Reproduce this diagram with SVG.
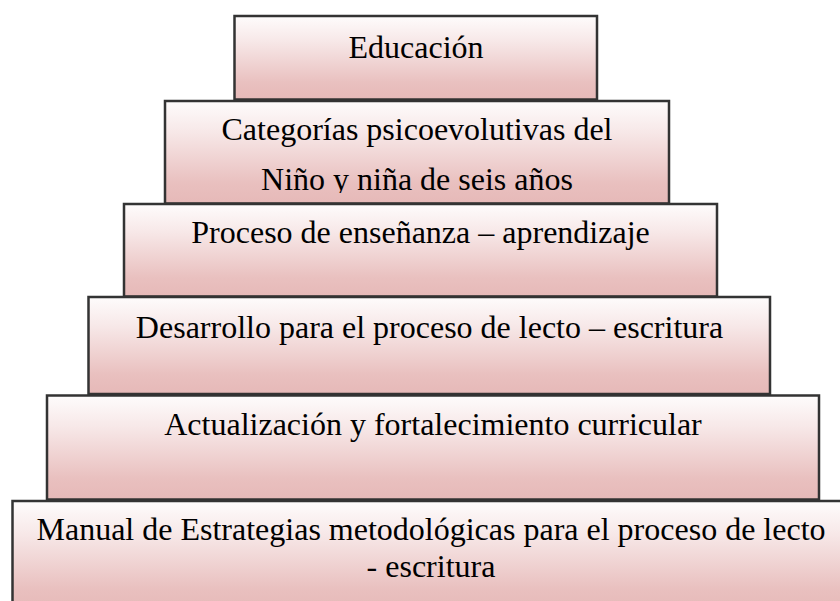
<svg xmlns="http://www.w3.org/2000/svg" width="840" height="601" viewBox="0 0 840 601">
<defs>
<linearGradient id="g" x1="0" y1="0" x2="0" y2="1">
<stop offset="0" stop-color="#fefcfc"/>
<stop offset="0.3" stop-color="#f7e8e8"/>
<stop offset="0.8" stop-color="#e9c0bf"/>
<stop offset="1" stop-color="#e6b9b8"/>
</linearGradient>
<clipPath id="c2"><rect x="165" y="100" width="504" height="93"/></clipPath>
<style>
.b{fill:url(#g);stroke:#333333;stroke-width:2.5}
.t{font-family:"Liberation Serif","Times New Roman",serif;font-size:32px;fill:#000;text-anchor:middle}
</style>
</defs>
<rect width="840" height="601" fill="#ffffff"/>
<g id="n1"><rect class="b" x="234.5" y="16" width="362.5" height="83.5"/><text class="t" x="416" y="58">Educación</text></g>
<g id="n2"><rect class="b" x="165" y="101" width="504" height="102.5"/><g clip-path="url(#c2)"><text class="t" x="417" y="140">Categorías psicoevolutivas del</text><text class="t" x="417" y="190">Niño y niña de seis años</text></g></g>
<g id="n3"><rect class="b" x="124" y="204" width="593" height="92.5"/><text class="t" x="420.5" y="243">Proceso de enseñanza – aprendizaje</text></g>
<g id="n4"><rect class="b" x="88.5" y="297" width="681.5" height="97"/><text class="t" x="429.5" y="338">Desarrollo para el proceso de lecto – escritura</text></g>
<g id="n5"><rect class="b" x="47" y="395.5" width="772" height="104"/><text class="t" x="433" y="435">Actualización y fortalecimiento curricular</text></g>
<g id="n6"><rect class="b" x="12.5" y="501" width="840" height="110"/><text class="t" x="431" y="540">Manual de Estrategias metodológicas para el proceso de lecto</text><text class="t" x="431" y="577">- escritura</text></g>
<g id="connectors"/>
</svg>
